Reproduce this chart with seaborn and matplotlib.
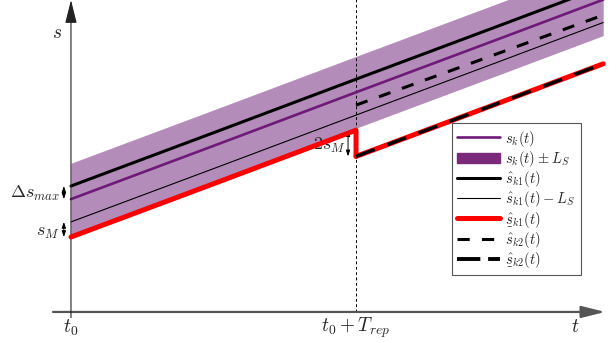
import numpy as np
import matplotlib
matplotlib.use("Agg")
import matplotlib.pyplot as plt
import seaborn as sns
from matplotlib.lines import Line2D
from matplotlib.patches import Patch
from matplotlib.mathtext import MathTextParser

sns.set_theme(style="white")
plt.rcParams['mathtext.fontset'] = 'cm'
plt.rcParams['font.family'] = ['DejaVu Sans']

# time axis (t0 = 0, T_rep = 1)
t_full = [0.0, 0.5, 1.0, 1.5, 1.867]
t_before = [0.0, 0.5, 1.0, 1.0]
t_after = [1.0, 1.5, 1.867]
t_rep = 1.0

# s_k(t) and its band
s_k = [0.396, 0.583, 0.771, 0.958, 1.096]
L_S = 0.126
# estimate s_k1
s_k1 = [0.442, 0.629, 0.817, 1.004, 1.142]
s_k1_minus_L = [0.316, 0.503, 0.691, 0.878, 1.016]
# lower estimate s_k1 (with the jump of 2 s_M at t0 + T_rep)
s_k1_low = [0.263, 0.450, 0.638, 0.546]
# estimate s_k2 and its lower bound after the reset
s_k2 = [0.726, 0.908, 1.042]
s_k2_low = [0.546, 0.733, 0.871]


def under(s, fallback):
    """Use \\underset if mathtext can parse it."""
    try:
        MathTextParser('agg').parse(s, 100)
        return s
    except Exception:
        return fallback


def line(x, y, **kw):
    sns.lineplot(x=x, y=y, ax=ax, sort=False, estimator=None, **kw)


fig = plt.figure(figsize=(6.16, 3.43), dpi=100)
ax = fig.add_axes([0, 0, 1, 1])
ax.set_xlim(-0.249, 1.912)
ax.set_ylim(-0.109, 1.095)
ax.axis('off')

band_col = '#b48cba'
purple = '#6e1a78'

lo = [v - L_S for v in s_k]
hi = [v + L_S for v in s_k]
ax.fill_between(t_full, lo, hi, color=band_col, lw=0, zorder=1)

line(t_full, s_k, color=purple, lw=1.9, zorder=3)
line(t_full, s_k1, color='black', lw=2.2, zorder=3)
line(t_full, s_k1_minus_L, color='black', lw=0.8, zorder=3)
line(t_before, s_k1_low, color='red', lw=3.6, zorder=4)
line(t_after, s_k2_low, color='red', lw=3.6, zorder=4)
line(t_after, s_k2_low, color='black', lw=2.4, ls=(0, (6, 4)), zorder=5)
line(t_after, s_k2, color='black', lw=2.2, ls=(0, (4, 4)), zorder=5)

# vertical marker at t0 + T_rep
ax.plot([t_rep, t_rep], [0, 1.2], color='black', lw=0.7, ls=(0, (3, 2.5)), zorder=2)

# axes with arrows
ax.annotate('', xy=(1.874, 0), xytext=(-0.063, 0),
            arrowprops=dict(arrowstyle='-|>,head_length=0.8,head_width=0.2',
                            mutation_scale=18, color='#555555', lw=1.6, shrinkA=0, shrinkB=0))
ax.annotate('', xy=(0, 1.095), xytext=(0, -0.02),
            arrowprops=dict(arrowstyle='-|>,head_length=0.8,head_width=0.2',
                            mutation_scale=18, color='#222222', lw=0.8, shrinkA=0, shrinkB=0))

# small double arrows
dbl = dict(arrowstyle='<|-|>,head_length=0.35,head_width=0.12', mutation_scale=10,
           color='black', lw=0.7, shrinkA=0, shrinkB=0)
ax.annotate('', xy=(-0.025, s_k1[0]), xytext=(-0.025, s_k[0]), arrowprops=dbl)
ax.annotate('', xy=(-0.025, s_k1_minus_L[0]), xytext=(-0.025, s_k1_low[0]), arrowprops=dbl)
ax.annotate('', xy=(0.972, s_k1_low[2]), xytext=(0.972, s_k1_low[3]), arrowprops=dbl)

fs = 14
ax.text(-0.032, 0.982, r'$s$', fontsize=fs, ha='right', va='center')
ax.text(1.77, -0.05, r'$t$', fontsize=fs, ha='center', va='center')
ax.text(0.0, -0.055, r'$t_0$', fontsize=fs, ha='center', va='center')
ax.text(t_rep, -0.055, r'$t_0 + T_{rep}$', fontsize=fs, ha='center', va='center')
ax.text(-0.038, 0.417, r'$\Delta s_{max}$', fontsize=fs - 1, ha='right', va='center')
ax.text(-0.038, 0.28, r'$s_M$', fontsize=fs - 1, ha='right', va='center')
ax.text(0.965, 0.586, r'$2s_M$', fontsize=fs - 1, ha='right', va='center')

handles = [
    Line2D([], [], color=purple, lw=1.9),
    Patch(facecolor='#7b2a7b', edgecolor='#7b2a7b'),
    Line2D([], [], color='black', lw=2.2),
    Line2D([], [], color='black', lw=0.8),
    Line2D([], [], color='red', lw=3.6),
    Line2D([], [], color='black', lw=2.2, ls=(0, (4, 4))),
    Line2D([], [], color='black', lw=2.8, ls=(0, (6, 2))),
]
labels = [
    r'$s_k(t)$',
    r'$s_k(t) \pm L_S$',
    r'$\hat{s}_{k1}(t)$',
    r'$\hat{s}_{k1}(t) - L_S$',
    under(r'$\underset{\_}{\hat{s}}_{k1}(t)$', r'$\hat{s}_{k1}(t)$'),
    r'$\hat{s}_{k2}(t)$',
    under(r'$\underset{\_}{\hat{s}}_{k2}(t)$', r'$\hat{s}_{k2}(t)$'),
]
leg = ax.legend(handles, labels, loc='lower left', bbox_to_anchor=(0.734, 0.198),
                borderaxespad=0, fontsize=10.5, handlelength=2.9, handleheight=0.7,
                labelspacing=0.02, handletextpad=0.4, borderpad=0.35,
                fancybox=False, framealpha=1, edgecolor='#555555')
leg.get_frame().set_linewidth(0.8)

fig.savefig('out.png', dpi=100)
